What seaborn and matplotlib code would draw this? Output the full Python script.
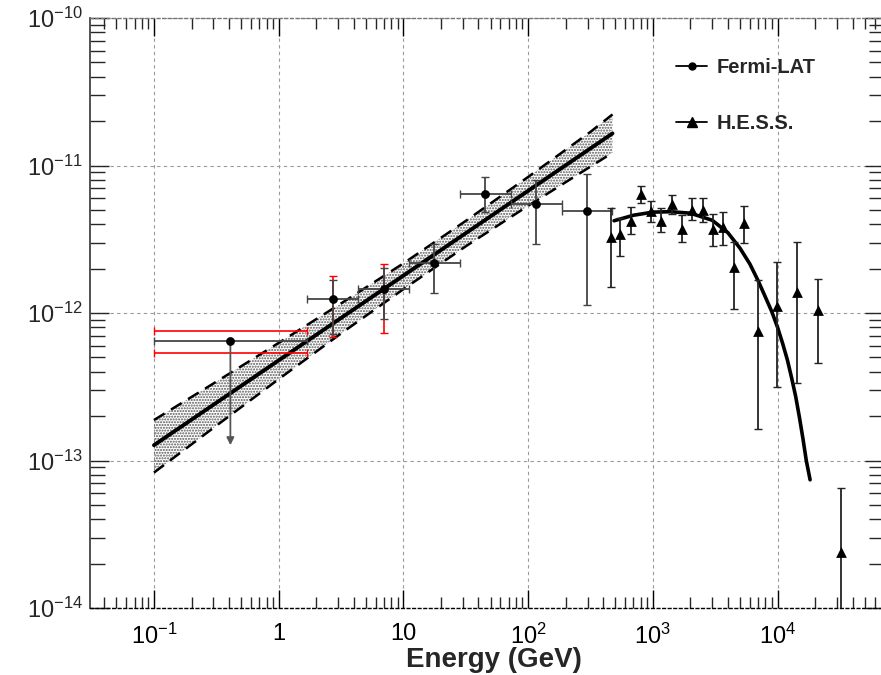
import numpy as np
import matplotlib
matplotlib.use("Agg")
import matplotlib.pyplot as plt
from matplotlib.lines import Line2D
import seaborn as sns

# Fermi-LAT upper limit (first bin)
ul_energy = 0.41
ul_e_lo, ul_e_hi = 0.1, 1.69
ul_flux = 6.45e-13
ul_arrow_to = 1.27e-13
ul_sys_flux = [7.6e-13, 5.37e-13]

# Fermi-LAT points
fermi_e = [2.72, 6.98, 17.7, 45.4, 115.6, 296]
fermi_e_lo = [1.69, 4.33, 11.1, 28.4, 72.4, 186]
fermi_e_hi = [4.33, 11.1, 28.4, 72.4, 186, 473]
fermi_flux = [1.245e-12, 1.45e-12, 2.17e-12, 6.44e-12, 5.46e-12, 4.94e-12]
fermi_flux_lo = [7.2e-13, 9.06e-13, 1.37e-12, 4.86e-12, 2.94e-12, 1.13e-12]
fermi_flux_hi = [1.675e-12, 2.01e-12, 2.94e-12, 8.32e-12, 7.98e-12, 8.75e-12]
# systematic (red) bars on bins 2 and 3
sys_e = [2.72, 6.98]
sys_lo = [6.84e-13, 7.34e-13]
sys_hi = [1.78e-12, 2.15e-12]

# Fermi power-law fit and butterfly
pl_energy = [0.1, 475]
pl_flux = [1.27e-13, 1.65e-11]
band_energy = [0.1, 0.316, 1, 3.16, 10, 31.6, 100, 316, 475]
band_upper = [1.88e-13, 3.42e-13, 6.27e-13, 1.16e-12, 2.17e-12, 4.21e-12, 8.36e-12, 1.69e-11, 2.22e-11]
band_lower = [8.28e-14, 1.72e-13, 3.56e-13, 7.26e-13, 1.45e-12, 2.83e-12, 5.33e-12, 9.82e-12, 1.22e-11]

# H.E.S.S. points
hess_e = [459, 546, 665, 804, 968, 1170, 1418, 1706, 2075, 2513, 3040, 3676,
          4453, 5387, 6976, 9857, 14260, 21250, 32130]
hess_flux = [3.26e-12, 3.43e-12, 4.23e-12, 6.41e-12, 4.94e-12, 4.23e-12, 5.48e-12,
             3.71e-12, 4.99e-12, 4.99e-12, 3.71e-12, 3.81e-12, 2.04e-12, 4.09e-12,
             7.53e-13, 1.11e-12, 1.39e-12, 1.05e-12, 2.39e-14]
hess_flux_hi = [5.13e-12, 4.39e-12, 5.21e-12, 7.30e-12, 5.77e-12, 5.13e-12, 6.34e-12,
                4.61e-12, 6.00e-12, 6.00e-12, 4.69e-12, 4.86e-12, 3.04e-12, 5.31e-12,
                1.67e-12, 2.21e-12, 3.01e-12, 1.69e-12, 6.49e-14]
hess_flux_lo = [1.50e-12, 2.42e-12, 3.42e-12, 5.60e-12, 4.12e-12, 3.54e-12, 4.69e-12,
                3.01e-12, 4.28e-12, 4.16e-12, 2.84e-12, 2.89e-12, 1.06e-12, 3.00e-12,
                1.64e-13, 3.13e-13, 3.33e-13, 4.60e-13, 1e-15]

# H.E.S.S. fit curve
hess_curve_e = [489, 700, 1000, 1400, 2000, 3000, 4000, 5000, 6000, 7000, 8000,
                9000, 10000, 11000, 12000, 13000, 14000, 15000, 16000, 17000, 18240]
hess_curve_f = [4.22e-12, 4.60e-12, 4.83e-12, 4.86e-12, 4.75e-12, 4.25e-12, 3.50e-12,
                2.75e-12, 2.15e-12, 1.65e-12, 1.28e-12, 1.02e-12, 8.0e-13, 6.2e-13,
                4.8e-13, 3.6e-13, 2.7e-13, 1.95e-13, 1.4e-13, 1.0e-13, 7.4e-14]

x_ticks = [0.1, 1, 10, 100, 1000, 10000]
x_ticklabels = [r"$\mathdefault{10^{-1}}$", "1", "10", r"$\mathdefault{10^{2}}$",
                r"$\mathdefault{10^{3}}$", r"$\mathdefault{10^{4}}$"]
y_ticks = [1e-14, 1e-13, 1e-12, 1e-11, 1e-10]

sns.set_style("white")
plt.rcParams["font.family"] = ["Liberation Sans", "DejaVu Sans"]
plt.rcParams["hatch.linewidth"] = 1.0

fig = plt.figure(figsize=(8.81, 6.75), dpi=100)
ax = fig.add_axes([90 / 881, 67 / 675, (884 - 90) / 881, (608 - 18) / 675])
ax.set_xscale("log")
ax.set_yscale("log")
ax.set_xlim(0.0307, 7.14e4)
ax.set_ylim(1e-14, 1e-10)

ax.grid(True, which="major", color="#9a9a9a", linestyle=(0, (3, 3)), linewidth=0.8)
ax.set_axisbelow(True)

# butterfly
ax.fill_between(band_energy, band_lower, band_upper, facecolor="none",
                edgecolor="#555555", hatch="......", linewidth=0, zorder=2)
sns.lineplot(x=band_energy, y=band_upper, ax=ax, color="black", linewidth=1.8,
             linestyle=(0, (5, 3)), zorder=3)
sns.lineplot(x=band_energy, y=band_lower, ax=ax, color="black", linewidth=1.8,
             linestyle=(0, (5, 3)), zorder=3)
sns.lineplot(x=pl_energy, y=pl_flux, ax=ax, color="black", linewidth=2.8, zorder=4)

# Fermi upper limit
ax.errorbar([ul_energy, ul_energy], ul_sys_flux,
            xerr=[[ul_energy - ul_e_lo] * 2, [ul_e_hi - ul_energy] * 2],
            fmt="none", ecolor="red", elinewidth=1.2, capsize=3, zorder=5)
ax.errorbar([ul_energy], [ul_flux],
            xerr=[[ul_energy - ul_e_lo], [ul_e_hi - ul_energy]],
            fmt="none", ecolor="#444444", elinewidth=1.3, capsize=3, zorder=6)
ax.annotate("", xy=(ul_energy, ul_arrow_to), xytext=(ul_energy, ul_flux),
            arrowprops=dict(arrowstyle="-|>", color="#555555", lw=1.3,
                            mutation_scale=11, shrinkA=0, shrinkB=0), zorder=6)
sns.scatterplot(x=[ul_energy], y=[ul_flux], ax=ax, marker="o", s=40,
                color="black", edgecolor="black", linewidth=0, zorder=7)

# Fermi points
fe = np.array(fermi_e)
ff = np.array(fermi_flux)
se = np.array(sys_e)
ax.errorbar(se, ff[:2], yerr=[ff[:2] - np.array(sys_lo), np.array(sys_hi) - ff[:2]],
            fmt="none", ecolor="red", elinewidth=1.2, capsize=3, zorder=5)
ax.errorbar(fe, ff,
            xerr=[fe - np.array(fermi_e_lo), np.array(fermi_e_hi) - fe],
            yerr=[ff - np.array(fermi_flux_lo), np.array(fermi_flux_hi) - ff],
            fmt="none", ecolor="#444444", elinewidth=1.3, capsize=3, zorder=6)
sns.scatterplot(x=fermi_e, y=fermi_flux, ax=ax, marker="o", s=40,
                color="black", edgecolor="black", linewidth=0, zorder=7)

# H.E.S.S. points and fit
he = np.array(hess_e)
hf = np.array(hess_flux)
ax.errorbar(he, hf, yerr=[hf - np.array(hess_flux_lo), np.array(hess_flux_hi) - hf],
            fmt="none", ecolor="#222222", elinewidth=1.3, capsize=3, zorder=6)
sns.lineplot(x=hess_curve_e, y=hess_curve_f, ax=ax, color="black", linewidth=2.6, zorder=5)
sns.scatterplot(x=hess_e, y=hess_flux, ax=ax, marker="^", s=60,
                color="black", edgecolor="black", linewidth=0, zorder=7)

# axes styling
ax.set_xticks(x_ticks)
ax.set_xticklabels(x_ticklabels)
ax.set_yticks(y_ticks)
ax.set_ylim(1e-14, 1e-10)
ax.tick_params(axis="x", which="major", direction="in", length=13, width=1,
               top=True, bottom=True, labelsize=17, pad=11, colors="black")
ax.tick_params(axis="x", which="minor", direction="in", length=8, width=1,
               top=True, bottom=True)
ax.tick_params(axis="y", which="major", direction="in", length=14, width=1,
               left=True, right=True, labelsize=17, pad=5)
ax.tick_params(axis="y", which="minor", direction="in", length=11, width=1,
               left=True, right=True)

ax.spines["left"].set_color("#444444")
ax.spines["left"].set_linewidth(1.3)
for side in ["top", "bottom"]:
    ax.spines[side].set_linestyle((0, (2, 2)))
    ax.spines[side].set_linewidth(1.0)
ax.spines["top"].set_color("#777777")
ax.spines["bottom"].set_color("black")

ax.set_xlabel("Energy (GeV)", fontsize=20, fontweight="bold")
ax.xaxis.set_label_coords(0.509, -0.066)

handles = [
    Line2D([], [], color="black", lw=1.3, marker="o", markersize=5),
    Line2D([], [], color="black", lw=1.3, marker="^", markersize=7),
]
ax.legend(handles, ["Fermi-LAT", "H.E.S.S."], loc="upper left",
          bbox_to_anchor=((676 - 90) / 794, (608 - 58) / 590),
          frameon=False, borderpad=0, borderaxespad=0, handlelength=1.55,
          handletextpad=0.45, labelspacing=1.85,
          prop={"weight": "bold", "size": 14.5})

fig.savefig("out.png", dpi=100)
plt.close(fig)
